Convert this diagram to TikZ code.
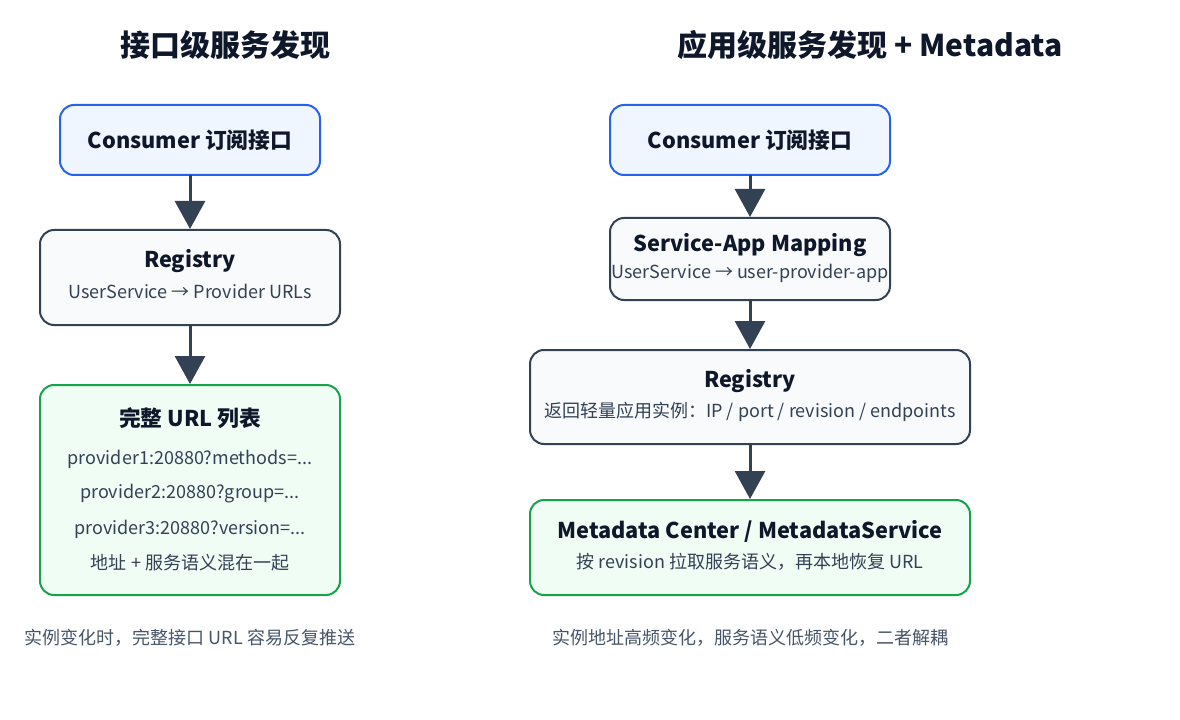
\documentclass[tikz,border=0pt]{standalone}
\usepackage{fontspec}
\setmainfont{Noto Sans CJK SC}
\usetikzlibrary{arrows.meta}
\definecolor{ink}{HTML}{0F172A}
\definecolor{body}{HTML}{334155}
\definecolor{note}{HTML}{475569}
\definecolor{blueln}{HTML}{2563EB}
\definecolor{bluebg}{HTML}{EFF6FF}
\definecolor{grayln}{HTML}{334155}
\definecolor{graybg}{HTML}{F8FAFC}
\definecolor{greenln}{HTML}{16A34A}
\definecolor{greenbg}{HTML}{F0FDF4}
\tikzset{
  box/.style={rounded corners=10.5pt, line width=1.5pt, inner sep=0pt, outer sep=0pt},
  bluebox/.style={box, draw=blueln, fill=bluebg},
  graybox/.style={box, draw=grayln, fill=graybg},
  greenbox/.style={box, draw=greenln, fill=greenbg},
  heading/.style={font=\fontsize{22.5}{26}\selectfont\bfseries, text=ink, inner sep=0pt},
  ttl/.style={font=\fontsize{16.3}{19}\selectfont\bfseries, text=ink, inner sep=0pt},
  sub/.style={font=\fontsize{13.5}{16}\selectfont, text=body, inner sep=0pt},
  foot/.style={font=\fontsize{13.5}{16}\selectfont, text=note, inner sep=0pt},
  flow/.style={draw=body, line width=2.25pt, -{Triangle[width=22.5pt,length=21pt]}, shorten >=0.75pt},
}
\begin{document}
\begin{tikzpicture}[x=0.75pt, y=-0.75pt]
\path[fill=white, use as bounding box] (0,0) rectangle (1180,720);

% ---------- left column ----------
\node[heading] (lh) at (225,45) {接口级服务发现};

\node[bluebox, minimum width=195pt, minimum height=52.5pt] (lc) at (190,140) {};
\node[ttl] (lct) at (190,140.5) {Consumer 订阅接口};

\node[graybox, minimum width=225pt, minimum height=71.25pt] (lr) at (190,277.5) {};
\node[ttl] (lrt) at (190,261) {Registry};
\node[sub] (lrs) at (190,291) {UserService → Provider URLs};

\node[greenbox, minimum width=225pt, minimum height=157.5pt] (lu) at (190,490) {};
\node[ttl] (lut) at (190,418) {完整 URL 列表};
\node[sub] (lu1) at (190,459) {provider1:20880?methods=...};
\node[sub] (lu2) at (190,494) {provider2:20880?group=...};
\node[sub] (lu3) at (190,529) {provider3:20880?version=...};
\node[sub] (lu4) at (190,563) {地址 + 服务语义混在一起};

\node[foot] (lf) at (190,638) {实例变化时，完整接口 URL 容易反复推送};

\draw[flow] (lc) -- (lr);
\draw[flow] (lr) -- (lu);

% ---------- right column ----------
\node[heading] (rh) at (870,45) {应用级服务发现 + Metadata};

\node[bluebox, minimum width=210pt, minimum height=52.5pt] (rc) at (750,140) {};
\node[ttl] (rct) at (750,140.5) {Consumer 订阅接口};

\node[graybox, minimum width=210pt, minimum height=61.5pt] (rm) at (750,259) {};
\node[ttl] (rmt) at (750,245) {Service-App Mapping};
\node[sub] (rms) at (750,273) {UserService → user-provider-app};

\node[graybox, minimum width=330pt, minimum height=70.5pt] (rr) at (750,397) {};
\node[ttl] (rrt) at (750,381) {Registry};
\node[sub] (rrs) at (750,412) {返回轻量应用实例：IP / port / revision / endpoints};

\node[greenbox, minimum width=330pt, minimum height=71.25pt] (rd) at (750,547.5) {};
\node[ttl] (rdt) at (750,531) {Metadata Center / MetadataService};
\node[sub] (rds) at (750,562) {按 revision 拉取服务语义，再本地恢复 URL};

\node[foot] (rf) at (750,638) {实例地址高频变化，服务语义低频变化，二者解耦};

\draw[flow] (rc) -- (rm);
\draw[flow] (rm) -- (rr);
\draw[flow] (rr) -- (rd);
\end{tikzpicture}
\end{document}
